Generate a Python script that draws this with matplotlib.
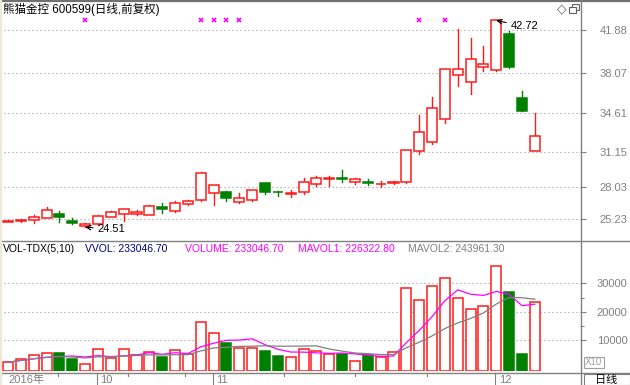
import numpy as np
import pandas as pd
import matplotlib
matplotlib.use('Agg')
import matplotlib.pyplot as plt
from matplotlib.patches import Rectangle

plt.rcParams['font.family'] = ['Liberation Sans', 'Noto Sans CJK SC', 'DejaVu Sans']

# daily candles, 2016-09 .. 2016-12
opens = [25.00, 25.05, 25.12, 25.30, 25.64, 25.05, 24.62, 24.76, 25.43, 25.64,
         25.64, 25.58, 26.31, 25.90, 26.55, 26.90, 27.50, 27.58, 26.70, 26.88,
         28.37, 27.65, 27.45, 27.58, 28.28, 28.75, 28.80, 28.52, 28.47, 28.28,
         28.40, 28.46, 31.25, 32.00, 34.01, 37.92, 37.27, 38.59, 38.36, 41.53,
         35.86, 31.22]
closes = [25.05, 25.10, 25.38, 26.02, 25.38, 24.85, 24.80, 25.52, 25.82, 26.08,
          25.82, 26.37, 26.08, 26.60, 26.84, 29.25, 28.20, 27.05, 27.10, 27.78,
          27.63, 27.60, 27.52, 28.46, 28.80, 28.85, 28.72, 28.72, 28.42, 28.35,
          28.47, 31.31, 32.87, 34.98, 38.42, 38.42, 39.33, 38.86, 42.72, 38.60,
          34.74, 32.57]
highs = [25.12, 25.20, 25.55, 26.25, 25.90, 25.30, 24.90, 25.55, 25.96, 26.10,
         26.00, 26.45, 26.60, 26.80, 26.90, 29.40, 28.25, 27.70, 27.50, 27.80,
         28.40, 27.67, 27.78, 28.80, 29.00, 29.00, 29.55, 28.80, 28.75, 28.60,
         28.60, 31.35, 34.40, 35.95, 38.45, 41.94, 41.15, 40.47, 42.72, 41.82,
         36.53, 34.54]
lows = [24.98, 25.00, 24.90, 25.30, 25.00, 24.75, 24.51, 24.72, 25.40, 25.05,
        25.60, 25.55, 25.80, 25.85, 26.50, 26.85, 26.45, 26.85, 26.65, 26.85,
        27.43, 27.25, 27.20, 27.45, 28.15, 28.13, 28.50, 28.28, 28.22, 28.02,
        28.35, 28.40, 30.95, 31.85, 33.65, 36.95, 36.24, 38.27, 38.30, 38.55,
        34.70, 31.20]
volume = [2230, 3430, 4590, 5550, 5300, 3180, 1660, 6960, 3780, 6710,
          4590, 5900, 4000, 6600, 5190, 16360, 12370, 9080, 7070, 7310,
          6110, 4350, 4130, 6960, 6000, 5200, 5000, 2500, 4700, 4000,
          5800, 28500, 24000, 29000, 32000, 25000, 20800, 21856, 36000, 27000,
          5000, 23305]

price_ticks = [41.88, 38.07, 34.61, 31.15, 28.03, 25.23]
vol_ticks = [10000, 20000, 30000]
vol_minor = [15000, 25000]
month_labels = ['2016年', '10', '11', '12']
month_starts = [0, 7, 16, 38]
week_ticks = [3.9, 9.3, 13.8, 21.5, 27, 32.6]
mark_days = [6, 15, 16, 17, 18, 32, 34]

RED = '#ff1a1a'
GREEN = '#008000'
GRAY = '#808080'

W, H = 630, 385
fig = plt.figure(figsize=(6.3, 3.85), dpi=100)


def px_axes(x0, y0, x1, y1):
    return fig.add_axes([x0 / W, 1 - y1 / H, (x1 - x0) / W, (y1 - y0) / H])


step = 12.85
xlim = (-8 / step, 572 / step)
n = len(opens)
idx = np.arange(n)
bw = 0.78

# price panel
ax = px_axes(0, 2, 580, 240)
ax.set_xlim(*xlim)
ppx = 11.35
ax.set_ylim(41.88 - 210 / ppx, 41.88 + 28 / ppx)
for p in price_ticks:
    ax.axhline(p, color='#999999', lw=0.8, ls=(0, (1, 2.6)), zorder=0)
for i in idx:
    o, c, h, l = opens[i], closes[i], highs[i], lows[i]
    if c >= o:
        ax.plot([i, i], [max(o, c), h], color=RED, lw=1.0, zorder=2)
        ax.plot([i, i], [l, min(o, c)], color=RED, lw=1.0, zorder=2)
        ax.add_patch(Rectangle((i - bw / 2, o), bw, c - o, facecolor='white',
                               edgecolor=RED, lw=1.1, zorder=3))
    else:
        ax.plot([i, i], [l, h], color=GREEN, lw=1.0, zorder=2)
        ax.add_patch(Rectangle((i - bw / 2, c), bw, o - c, facecolor=GREEN,
                               edgecolor=GREEN, lw=1.1, zorder=3))
ax.plot(mark_days, [0.924] * len(mark_days), 'x', color='#ff00ff', ms=3.5,
        mew=1.2, transform=ax.get_xaxis_transform(), clip_on=False)
imin = int(np.argmin(lows))
imax = int(np.argmax(highs))
ax.annotate(f'{lows[imin]:.2f}', xy=(imin, lows[imin]), xytext=(12, -2),
            textcoords='offset pixels', ha='left', va='center', fontsize=8,
            arrowprops=dict(arrowstyle='->', color='black', lw=0.8,
                            shrinkA=1, shrinkB=0))
ax.annotate(f'{highs[imax]:.2f}', xy=(imax, highs[imax]), xytext=(14, -6),
            textcoords='offset pixels', ha='left', va='center', fontsize=8,
            arrowprops=dict(arrowstyle='->', color='black', lw=0.8,
                            shrinkA=1, shrinkB=0))
ax.set_xticks([])
ax.yaxis.tick_right()
ax.set_yticks(price_ticks)
ax.set_yticklabels([f'{p:.2f}' for p in price_ticks])
ax.tick_params(axis='y', length=4, width=0.8, color=GRAY, labelcolor=GRAY,
               labelsize=8, pad=10)
for s in ax.spines.values():
    s.set_visible(False)
ax.patch.set_visible(False)

# volume panel
av = px_axes(0, 240, 580, 371)
av.set_xlim(*xlim)
vpx = 28.4 / 10000
v0 = 368.5
vmin = (v0 - 371) / vpx
av.set_ylim(vmin, (v0 - 240) / vpx)
for v in vol_ticks:
    av.axhline(v, color='#999999', lw=0.8, ls=(0, (1, 2.6)), zorder=0)
vol = np.array(volume, dtype=float)
up = np.array(closes) >= np.array(opens)
av.bar(idx[up], vol[up] - vmin, bottom=vmin, width=bw, facecolor='white',
       edgecolor=RED, lw=1.1, zorder=2)
av.bar(idx[~up], vol[~up] - vmin, bottom=vmin, width=bw, facecolor=GREEN,
       edgecolor=GREEN, lw=1.1, zorder=2)
ma5 = pd.Series(vol).rolling(5, min_periods=1).mean()
ma10 = pd.Series(vol).rolling(10, min_periods=1).mean()
av.plot(idx, ma5, color='#ff00ff', lw=0.9, zorder=4)
av.plot(idx, ma10, color=GRAY, lw=0.9, zorder=4)
av.set_xticks([])
av.yaxis.tick_right()
av.set_yticks(vol_ticks)
av.set_yticklabels([str(v) for v in vol_ticks])
av.set_yticks(vol_minor, minor=True)
av.tick_params(axis='y', which='major', length=4, width=0.8, color=GRAY,
               labelcolor=GRAY, labelsize=8, pad=8)
av.tick_params(axis='y', which='minor', length=3, width=0.8, color=GRAY)
for s in av.spines.values():
    s.set_visible(False)
av.patch.set_visible(False)

# month labels under the volume panel
xt = av.get_xaxis_transform()
for k, (m, lab) in enumerate(zip(month_starts, month_labels)):
    if k > 0:
        av.plot([m - 0.08, m - 0.08], [-0.015, -0.11], color=GRAY, lw=0.8,
                transform=xt, clip_on=False)
        av.text(m + 0.18, -0.065, lab, transform=xt, ha='left', va='center',
                fontsize=8, color=GRAY)
    else:
        av.text(m, -0.065, lab, transform=xt, ha='left', va='center',
                fontsize=8, color=GRAY)
for m in week_ticks:
    av.plot([m, m], [-0.015, -0.04], color=GRAY, lw=0.8, transform=xt,
            clip_on=False)

# frame, titles and decorations in pixel space
ov = px_axes(0, 0, 630, 385)
ov.set_xlim(0, W)
ov.set_ylim(H, 0)
ov.axis('off')
ov.plot([0, W], [0.8, 0.8], color='#707070', lw=1.6)
ov.plot([0, W], [240.5, 240.5], color=GRAY, lw=1.0)
ov.plot([0, W], [372.5, 372.5], color=GRAY, lw=1.0)
ov.plot([580.5, 580.5], [0, H], color=GRAY, lw=1.0)
ov.plot([0.8, 0.8], [0, H], color='#ece9d8', lw=1.6)
ov.text(3, 9, '熊猫金控 600599(日线,前复权)', fontsize=8.3, ha='left',
        va='center', color='black')
ov.text(562, 9, '◇', fontsize=9, ha='center', va='center', color='#606060',
        family='DejaVu Sans')
ov.add_patch(Rectangle((572, 3.5), 6.5, 6.5, fill=False, ec='#606060', lw=0.8))
ov.add_patch(Rectangle((569, 6.5), 6.5, 6.5, fc='white', ec='#606060', lw=0.8))

header = [(3, 'VOL-TDX(5,10)', 'black'),
          (85, 'VVOL: 233046.70', '#000080'),
          (185, 'VOLUME: 233046.70', '#ff00ff'),
          (298, 'MAVOL1: 226322.80', '#ff00ff'),
          (408, 'MAVOL2: 243961.30', GRAY)]
for x, t, col in header:
    ov.text(x, 249.5, t, fontsize=7.5, ha='left', va='center', color=col)

ov.add_patch(Rectangle((583.5, 356.5), 20, 11, fill=False, ec='#a0a0a0', lw=0.8))
ov.text(593.5, 362, 'X10', fontsize=7, ha='center', va='center', color='#a0a0a0')
ov.add_patch(Rectangle((583.5, 373.5), 46, 11, fill=False, ec=GRAY, lw=0.8))
ov.text(606, 379.5, '日线', fontsize=8, ha='center', va='center', color='black')

fig.savefig('out.png', dpi=100)
